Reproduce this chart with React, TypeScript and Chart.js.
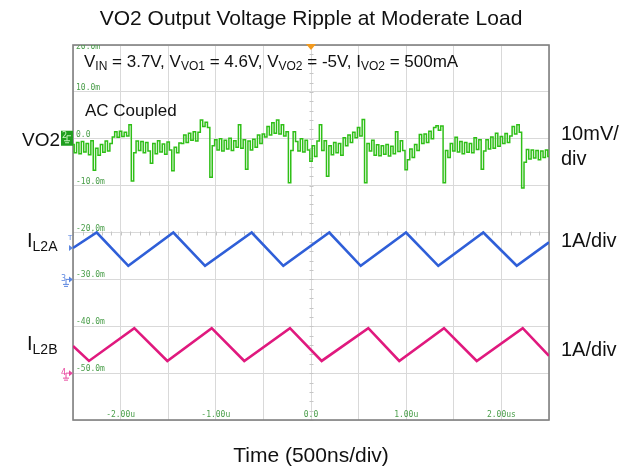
import React, { useEffect, useRef } from 'react';
import { Chart, registerables } from 'chart.js';

Chart.register(...registerables);

// ---- Data ----
// Time axis in microseconds (500 ns/div, 10 divisions)
const timeMin = -2.5;
const timeMax = 2.5;
const timeGridStep = 0.5;

// VO2 ripple trace (mV, AC coupled, 10 mV/div) sampled every 25 ns from -2.5 us
const vo2Start = -2.5;
const vo2Step = 0.025;
const vo2Values = [
  -1.2, -3.0, -0.8, -3.2, -0.6, -2.8, -1.0, -3.4, -0.4, -6.7,
  -2.0, -3.5, -1.2, -2.9, -0.5, -2.6, -1.0, 0.4, 1.5, 0.3,
  1.6, 0.5, 1.4, 0.6, 3.0, -9.0, -3.0, -0.5, -2.5, -0.6,
  -3.0, -0.8, -2.6, -5.2, -1.0, -3.2, -0.4, -2.8, -1.1, -3.3,
  -0.7, -2.4, -6.8, -1.8, -3.0, -0.9, -1.0, 0.8, -0.8, 1.2,
  -0.3, 1.5, -0.5, 1.4, 4.0, 2.6, 3.5, 2.4, -8.2, -1.5,
  -0.2, -2.4, 0.0, -2.6, -0.3, -2.2, 0.1, -2.5, -0.4, -1.8,
  3.0, -2.0, -0.2, -6.5, -0.5, -2.4, -0.1, -1.8, 0.8, -1.0,
  1.0, 0.4, 2.6, 0.8, 3.4, 1.2, 4.0, 1.0, 3.0, 0.6,
  1.5, -9.4, -2.5, 1.5, -0.6, -2.6, 0.0, -2.8, -0.3, -2.4,
  -4.8, -1.5, -3.8, -0.5, 3.0, -2.5, -0.4, -8.0, -1.5, -3.4,
  -0.8, -3.0, -1.0, -3.5, 0.2, -1.5, 0.8, -0.8, 1.4, 0.2,
  2.4, 0.6, 4.1, -9.4, -1.0, -2.6, -0.3, -3.5, -1.3, -3.6,
  -1.5, -3.3, -1.2, -3.7, -1.6, -3.2, 1.5, -2.7, -0.4, -2.5,
  -6.6, -4.5, -2.2, -4.0, -1.2, -2.5, 0.9, -1.0, 1.0, -0.8,
  1.6, 0.0, 2.4, 2.8, 1.8, 2.7, -9.4, -2.5, -4.0, -1.0,
  -2.6, 0.3, -2.8, -0.6, -3.2, -0.8, -2.9, -1.0, -3.0, 0.2,
  -2.3, -0.2, -6.5, -2.6, -0.2, -2.2, 0.4, -2.0, 1.2, -1.6,
  0.5, -1.0, 1.1, -0.8, 0.6, 2.6, 1.0, 3.0, 1.4, -10.5,
  -5.0, -2.3, -4.3, -2.4, -4.1, -2.5, -4.5, -2.6, -4.0, -2.4,
  -3.8,
];

// IL2A inductor current (screen units, offset on the -20 division line)
const il2aTimes = [-2.5, -2.251, -1.919, -1.446, -1.113, -0.623, -0.291, 0.192, 0.522, 0.998, 1.337, 1.81, 2.161, 2.5];
const il2aValues = [-23.3, -20.0, -27.1, -20.0, -27.1, -20.0, -27.1, -20.0, -27.1, -20.0, -27.1, -20.0, -27.1, -22.1];

// IL2B inductor current
const il2bTimes = [-2.5, -2.332, -1.856, -1.509, -1.043, -0.701, -0.221, 0.112, 0.602, 0.927, 1.397, 1.741, 2.224, 2.5];
const il2bValues = [-44.2, -47.4, -40.4, -47.4, -40.4, -47.4, -40.4, -47.4, -40.4, -47.4, -40.4, -47.4, -40.4, -46.3];

// Axis graticule labels
const yMin = -60;
const yMax = 20;
const yGridStep = 10;
const yTickValues = [20, 10, 0, -10, -20, -30, -40, -50];
const yTickLabels = ['20.0m', '10.0m', '0.0', '-10.0m', '-20.0m', '-30.0m', '-40.0m', '-50.0m'];
const xTickValues = [-2, -1, 0, 1, 2];
const xTickLabels = ['-2.00u', '-1.00u', '0.0', '1.00u', '2.00us'];

const GREEN = '#2fbf17';
const BLUE = '#2f5fd8';
const PINK = '#e0197e';
const FONT = '"Liberation Sans", Arial, sans-serif';

type Part = { t: string; sub?: boolean };

function drawRich(ctx: CanvasRenderingContext2D, x: number, y: number, parts: Part[], size: number, align: 'left' | 'center' = 'left') {
  const main = `${size}px ${FONT}`;
  const sub = `${Math.round(size * 0.68)}px ${FONT}`;
  let total = 0;
  for (const p of parts) {
    ctx.font = p.sub ? sub : main;
    total += ctx.measureText(p.t).width;
  }
  let cx = align === 'center' ? x - total / 2 : x;
  ctx.textAlign = 'left';
  ctx.textBaseline = 'alphabetic';
  for (const p of parts) {
    ctx.font = p.sub ? sub : main;
    ctx.fillText(p.t, cx, p.sub ? y + size * 0.2 : y);
    cx += ctx.measureText(p.t).width;
  }
}

function groundMarker(ctx: CanvasRenderingContext2D, label: string, color: string, x: number, y: number) {
  ctx.fillStyle = color;
  ctx.strokeStyle = color;
  ctx.font = `8px "DejaVu Sans", sans-serif`;
  ctx.textAlign = 'left';
  ctx.textBaseline = 'middle';
  ctx.fillText(label, x - 12, y);
  ctx.lineWidth = 1;
  ctx.beginPath();
  ctx.moveTo(x - 7, y);
  ctx.lineTo(x - 4, y);
  ctx.stroke();
  ctx.beginPath();
  ctx.moveTo(x - 4, y - 3);
  ctx.lineTo(x, y);
  ctx.lineTo(x - 4, y + 3);
  ctx.closePath();
  ctx.fill();
  ctx.beginPath();
  ctx.moveTo(x - 7, y);
  ctx.lineTo(x - 7, y + 5);
  ctx.moveTo(x - 10, y + 5);
  ctx.lineTo(x - 4, y + 5);
  ctx.moveTo(x - 9, y + 7);
  ctx.lineTo(x - 5, y + 7);
  ctx.stroke();
}

const scopePlugin = {
  id: 'scopeDecor',
  beforeDatasetsDraw(chart: any) {
    const { ctx, chartArea: a, scales } = chart;
    const x = scales.x;
    const y = scales.y;
    ctx.save();
    // minor ticks on the centre cross lines
    ctx.strokeStyle = '#c6c6c6';
    ctx.lineWidth = 1;
    const yc = Math.round(y.getPixelForValue(-20)) + 0.5;
    for (let k = 0; k <= 50; k++) {
      const px = Math.round(x.getPixelForValue(timeMin + k * 0.1)) + 0.5;
      ctx.beginPath();
      ctx.moveTo(px, yc - 2);
      ctx.lineTo(px, yc + 2);
      ctx.stroke();
    }
    const xc = Math.round(x.getPixelForValue(0)) + 0.5;
    for (let k = 0; k <= 40; k++) {
      const py = Math.round(y.getPixelForValue(yMin + k * 2)) + 0.5;
      ctx.beginPath();
      ctx.moveTo(xc - 2, py);
      ctx.lineTo(xc + 2, py);
      ctx.stroke();
    }
    // frame
    ctx.strokeStyle = '#808080';
    ctx.lineWidth = 1.6;
    ctx.strokeRect(a.left, a.top, a.right - a.left, a.bottom - a.top);
    // graticule labels (clipped to the screen)
    ctx.beginPath();
    ctx.rect(a.left, a.top, a.right - a.left, a.bottom - a.top);
    ctx.clip();
    ctx.fillStyle = '#4a9e4a';
    ctx.font = '8px "DejaVu Sans Mono", monospace';
    ctx.textAlign = 'left';
    ctx.textBaseline = 'middle';
    yTickValues.forEach((v, i) => {
      const py = Math.max(y.getPixelForValue(v) - 4, a.top + 2);
      ctx.fillText(yTickLabels[i], a.left + 3, py);
    });
    ctx.textAlign = 'center';
    xTickValues.forEach((t, i) => {
      ctx.fillText(xTickLabels[i], x.getPixelForValue(t), a.bottom - 5);
    });
    ctx.restore();
  },
  afterDraw(chart: any) {
    const { ctx, chartArea: a, scales } = chart;
    const x = scales.x;
    const y = scales.y;
    ctx.save();
    // trigger position marker
    const tx = x.getPixelForValue(0);
    ctx.fillStyle = '#f39a1e';
    ctx.beginPath();
    ctx.moveTo(tx - 5, a.top - 1);
    ctx.lineTo(tx + 5, a.top - 1);
    ctx.lineTo(tx, a.top + 5);
    ctx.closePath();
    ctx.fill();

    // channel 2 marker (green box)
    const g0 = y.getPixelForValue(0);
    ctx.fillStyle = '#1f9e1f';
    ctx.fillRect(a.left - 12, g0 - 8, 12, 15);
    ctx.fillStyle = '#c8f5c0';
    ctx.font = '8px "DejaVu Sans", sans-serif';
    ctx.textAlign = 'left';
    ctx.textBaseline = 'middle';
    ctx.fillText('2', a.left - 11, g0 - 3);
    ctx.strokeStyle = '#c8f5c0';
    ctx.lineWidth = 1;
    ctx.beginPath();
    ctx.moveTo(a.left - 6, g0 - 3);
    ctx.lineTo(a.left - 2, g0 - 3);
    ctx.moveTo(a.left - 6, g0 - 3);
    ctx.lineTo(a.left - 6, g0 + 2);
    ctx.moveTo(a.left - 9, g0 + 2);
    ctx.lineTo(a.left - 3, g0 + 2);
    ctx.moveTo(a.left - 8, g0 + 4);
    ctx.lineTo(a.left - 4, g0 + 4);
    ctx.stroke();

    // trigger level marker (blue T)
    const tl = y.getPixelForValue(il2aValues[0]);
    ctx.fillStyle = '#5b86e0';
    ctx.beginPath();
    ctx.moveTo(a.left - 4, tl - 3);
    ctx.lineTo(a.left, tl);
    ctx.lineTo(a.left - 4, tl + 3);
    ctx.closePath();
    ctx.fill();
    ctx.font = '7px "DejaVu Sans", sans-serif';
    ctx.fillText('T', a.left - 5, tl - 10);

    groundMarker(ctx, '3', '#5b86e0', a.left, y.getPixelForValue(-30));
    groundMarker(ctx, '4', '#e84aa0', a.left, y.getPixelForValue(-50));

    // texts
    ctx.fillStyle = '#111111';
    drawRich(ctx, 311, 25, [{ t: 'VO2 Output Voltage Ripple at Moderate Load' }], 21, 'center');
    drawRich(ctx, 84, 67, [
      { t: 'V' }, { t: 'IN', sub: true }, { t: ' = 3.7V, V' }, { t: 'VO1', sub: true },
      { t: ' = 4.6V, V' }, { t: 'VO2', sub: true }, { t: ' = -5V, I' }, { t: 'VO2', sub: true },
      { t: ' = 500mA' },
    ], 17);
    drawRich(ctx, 85, 116, [{ t: 'AC Coupled' }], 17);
    drawRich(ctx, 22, 146, [{ t: 'VO2' }], 19);
    drawRich(ctx, 27, 247, [{ t: 'I' }, { t: 'L2A', sub: true }], 20);
    drawRich(ctx, 27, 350, [{ t: 'I' }, { t: 'L2B', sub: true }], 20);
    drawRich(ctx, 561, 140, [{ t: '10mV/' }], 20);
    drawRich(ctx, 561, 165, [{ t: 'div' }], 20);
    drawRich(ctx, 561, 247, [{ t: '1A/div' }], 20);
    drawRich(ctx, 561, 356, [{ t: '1A/div' }], 20);
    drawRich(ctx, 311, 462, [{ t: 'Time (500ns/div)' }], 21, 'center');
    ctx.restore();
  },
};

export default function App() {
  const canvasRef = useRef<HTMLCanvasElement | null>(null);

  useEffect(() => {
    const canvas = canvasRef.current;
    if (!canvas) return;
    const vo2Data = vo2Values.map((v, i) => ({ x: vo2Start + i * vo2Step, y: v }));
    const aData = il2aTimes.map((t, i) => ({ x: t, y: il2aValues[i] }));
    const bData = il2bTimes.map((t, i) => ({ x: t, y: il2bValues[i] }));
    const chart = new Chart(canvas, {
      type: 'line',
      data: {
        datasets: [
          {
            label: 'VO2',
            data: vo2Data,
            borderColor: GREEN,
            borderWidth: 1.5,
            pointRadius: 0,
            stepped: 'middle',
            fill: false,
          },
          {
            label: 'IL2A',
            data: aData,
            borderColor: BLUE,
            borderWidth: 2.6,
            pointRadius: 0,
            tension: 0,
            fill: false,
          },
          {
            label: 'IL2B',
            data: bData,
            borderColor: PINK,
            borderWidth: 2.6,
            pointRadius: 0,
            tension: 0,
            fill: false,
          },
        ],
      },
      options: {
        responsive: false,
        animation: false,
        devicePixelRatio: 1,
        layout: { padding: { left: 73, right: 91, top: 45, bottom: 50 } },
        plugins: { legend: { display: false }, tooltip: { enabled: false }, title: { display: false } },
        scales: {
          x: {
            type: 'linear',
            min: timeMin,
            max: timeMax,
            ticks: { stepSize: timeGridStep, display: false },
            grid: { color: '#d9d9d9', drawTicks: false },
            border: { display: false },
          },
          y: {
            type: 'linear',
            min: yMin,
            max: yMax,
            ticks: { stepSize: yGridStep, display: false },
            grid: { color: '#d9d9d9', drawTicks: false },
            border: { display: false },
          },
        },
      },
      plugins: [scopePlugin],
    });
    return () => chart.destroy();
  }, []);

  return (
    <div style={{ position: 'absolute', left: 0, top: 0, width: 640, height: 470, background: '#ffffff' }}>
      <canvas ref={canvasRef} width={640} height={470} />
    </div>
  );
}
